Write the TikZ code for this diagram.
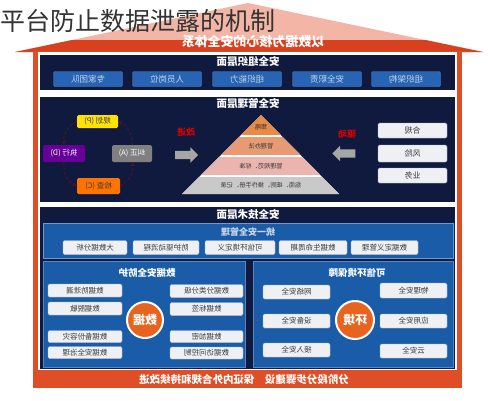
\documentclass[tikz,border=0pt]{standalone}
\usepackage{fontspec}
\setmainfont{Noto Sans CJK SC}
\usepackage{graphicx}
\usetikzlibrary{shapes.arrows}

\definecolor{navy}{HTML}{101A3E}
\definecolor{panel}{HTML}{1B5CA8}
\definecolor{paneledge}{HTML}{6F98CF}
\definecolor{orgblue}{HTML}{2864B4}
\definecolor{orgedge}{HTML}{4F85CC}
\definecolor{orgtext}{HTML}{C9D6EA}
\definecolor{roofpink}{HTML}{F3B6A6}
\definecolor{roofred}{HTML}{D9401E}
\definecolor{framered}{HTML}{DF4E26}
\definecolor{boxw}{HTML}{EEF0F4}
\definecolor{boxedge}{HTML}{AEB8C8}
\definecolor{boxtext}{HTML}{3A3A3A}
\definecolor{pyrA}{HTML}{E98B47}
\definecolor{pyrB}{HTML}{E89A74}
\definecolor{pyrC}{HTML}{EAB5AE}
\definecolor{pyrD}{HTML}{C9C9C9}
\definecolor{cyc}{HTML}{4A1626}
\definecolor{circ}{HTML}{E8641E}

\newcommand{\rv}[1]{\reflectbox{#1}}
\newcommand{\fs}[1]{\fontsize{#1}{#1}\selectfont}

\begin{document}
\begin{tikzpicture}
[x=1pt,y=1pt,>=stealth,
 hdr/.style = {text=white, font=\fs{10.5}\bfseries, inner sep=0pt},
 orgbox/.style = {draw=orgedge, fill=orgblue, text=orgtext, rounded corners=1.5pt, minimum width=69pt, minimum height=15pt, font=\fs{8.5}, inner sep=0pt},
 wbox/.style = {draw=boxedge, fill=boxw, text=boxtext, rounded corners=1.5pt, minimum height=14pt, font=\fs{7.5}, inner sep=0pt},
 pdca/.style = {rounded corners=1.5pt, text=white, font=\fs{7.5}, inner sep=0pt},
 redlbl/.style = {text=red!85!black, font=\fs{9}\bfseries, inner sep=0pt},
 lvl/.style = {text=boxtext, font=\fs{6.2}, inner sep=0pt},
 core/.style = {circle, draw=white, line width=2pt, fill=circ, text=white, font=\fs{12}\bfseries, inner sep=0pt},
 garrow/.style = {single arrow, fill=gray!70, minimum height=23pt, minimum width=15pt, single arrow head extend=3.5pt, inner xsep=0pt, inner ysep=4pt},
]

\useasboundingbox (0,0) rectangle (488,-400);
\fill[white] (0,0) rectangle (488,-400);

% roof
\fill[roofpink] (248,-3) -- (15,-52) -- (483,-52) -- cycle;
\begin{scope}
\clip (248,-3) -- (15,-52) -- (483,-52) -- cycle;
\fill[roofred] (0,-40) rectangle (488,-53);
\end{scope}
\node (roof) at (253,-42) [text=white, font=\fs{13}\bfseries, inner sep=0pt] {\rv{以数据为核心的安全体系}};

% frame
\fill[framered] (33,-51) rectangle (462,-388);
\fill[white] (38,-52) rectangle (457,-370);
\node (foot) at (244,-379) [text=white, font=\fs{10.5}\bfseries, inner sep=0pt] {\rv{分阶段分步骤建设\quad 保证内外合规和持续改进}};

% organisation layer
\fill[navy] (40,-55) rectangle (455,-90);
\node (orgH) at (248,-61.5) [hdr] {\rv{安全组织层面}};
\node (org1) at (88,-79) [orgbox] {\rv{专家团队}};
\node (org2) at (167,-79) [orgbox] {\rv{人员岗位}};
\node (org3) at (247,-79) [orgbox] {\rv{组织能力}};
\node (org4) at (327,-79) [orgbox] {\rv{安全职责}};
\node (org5) at (406,-79) [orgbox] {\rv{组织架构}};

% management layer
\fill[navy] (40,-97) rectangle (455,-202);
\node (mgtH) at (248,-104) [hdr] {\rv{安全管理层面}};
\node (plan) at (97.5,-121.5) [pdca, fill=yellow!85!orange, text=boxtext, minimum width=41pt, minimum height=13pt] {\rv{规划 (P)}};
\node (do) at (64,-153.5) [pdca, fill=violet!80!blue, minimum width=42pt, minimum height=17pt] {\rv{执行 (D)}};
\node (act) at (132,-153.5) [pdca, fill=gray, minimum width=40pt, minimum height=17pt] {\rv{纠正 (A)}};
\node (check) at (98.5,-186) [pdca, fill=orange!90!red, text=boxtext, minimum width=43pt, minimum height=16pt] {\rv{检查 (C)}};
\draw [cyc, line width=1pt, densely dashed, ->] (plan.west) to [bend right=35] (do.north);
\draw [cyc, line width=1pt, densely dashed, ->] (do.south) to [bend right=35] (check.west);
\draw [cyc, line width=1pt, densely dashed, ->] (check.east) to [bend right=35] (act.south);
\draw [cyc, line width=1pt, densely dashed, ->] (act.north) to [bend right=35] (plan.east);
\node (imp) at (186,-132) [redlbl] {\rv{改进}};
\node (arrL) at (184.5,-155) [garrow] {};

\fill[white] (261,-115) -- (182,-194) -- (339,-194) -- cycle;
\begin{scope}
\clip (261,-115) -- (182,-194) -- (339,-194) -- cycle;
\fill[pyrA] (182,-115) rectangle (339,-135);
\fill[pyrB] (182,-136.5) rectangle (339,-155);
\fill[pyrC] (182,-157) rectangle (339,-175);
\fill[pyrD] (182,-177) rectangle (339,-194);
\end{scope}
\node (lv1) at (261,-127) [lvl] {\rv{策略}};
\node (lv2) at (261,-146) [lvl] {\rv{管理办法}};
\node (lv3) at (261,-166) [lvl] {\rv{管理规范、标准}};
\node (lv4) at (261,-185.5) [lvl] {\rv{指南、细则、操作手册、记录}};

\node (drv) at (347,-134) [redlbl] {\rv{驱动}};
\node (arrR) at (346,-153.5) [garrow, shape border rotate=180] {};
\node (cmp) at (412.5,-130.5) [wbox, minimum width=69pt, minimum height=15pt, font=\fs{8}] {\rv{合规}};
\node (risk) at (412.5,-153.5) [wbox, minimum width=69pt, minimum height=17pt, font=\fs{8}] {\rv{风险}};
\node (biz) at (412.5,-175.5) [wbox, minimum width=69pt, minimum height=15pt, font=\fs{8}] {\rv{业务}};

% technology layer
\fill[navy] (40,-207) rectangle (455,-369);
\node (tecH) at (248,-215) [hdr] {\rv{安全技术层面}};
\filldraw[fill=panel, draw=paneledge] (43,-223) rectangle (453,-258);
\node (uniH) at (248,-232) [text=orgtext, font=\fs{9}\bfseries, inner sep=0pt] {\rv{统一安全管理}};
\node (t1) at (95,-247.5) [wbox, minimum width=64pt] {\rv{大数据分析}};
\node (t2) at (166,-247.5) [wbox, minimum width=66pt] {\rv{防护驱动流程}};
\node (t3) at (240,-247.5) [wbox, minimum width=70pt] {\rv{可信环境定义}};
\node (t4) at (313,-247.5) [wbox, minimum width=68pt] {\rv{数据生命周期}};
\node (t5) at (384.5,-247.5) [wbox, minimum width=67pt] {\rv{数据定义管理}};

% data protection
\filldraw[fill=panel, draw=paneledge!70!panel] (43,-261) rectangle (245,-367);
\node (datH) at (147,-273) [text=white, font=\fs{9.5}\bfseries, inner sep=0pt] {\rv{数据安全防护}};
\node (d1) at (85,-290.5) [wbox, minimum width=74pt, minimum height=13pt] {\rv{数据防泄漏}};
\node (d2) at (85,-308.5) [wbox, minimum width=74pt, minimum height=13pt] {\rv{数据脱敏}};
\node (d3) at (85,-336.5) [wbox, minimum width=74pt, minimum height=12pt] {\rv{数据备份容灾}};
\node (d4) at (85,-352.5) [wbox, minimum width=74pt, minimum height=12pt] {\rv{数据安全治理}};
\node (d5) at (206.5,-291) [wbox, minimum width=73pt, minimum height=13pt] {\rv{数据分类分级}};
\node (d6) at (206.5,-309) [wbox, minimum width=73pt, minimum height=13pt] {\rv{数据标签}};
\node (d7) at (206.5,-336.5) [wbox, minimum width=73pt, minimum height=12pt] {\rv{数据加密}};
\node (d8) at (206.5,-353) [wbox, minimum width=73pt, minimum height=12pt] {\rv{数据访问控制}};
\node (data) at (145,-320) [core, minimum size=36pt] {\rv{数据}};

% trusted environment
\filldraw[fill=panel, draw=paneledge!70!panel] (253,-261) rectangle (453,-367);
\node (envH) at (357,-273) [text=white, font=\fs{9.5}\bfseries, inner sep=0pt] {\rv{可信环境保障}};
\node (e1) at (296.5,-292) [wbox, minimum width=67pt] {\rv{网络安全}};
\node (e2) at (296.5,-321) [wbox, minimum width=67pt] {\rv{设备安全}};
\node (e3) at (296.5,-350) [wbox, minimum width=67pt] {\rv{接入安全}};
\node (e4) at (413.5,-290.5) [wbox, minimum width=67pt, minimum height=15pt] {\rv{物理安全}};
\node (e5) at (413.5,-321) [wbox, minimum width=67pt] {\rv{应用安全}};
\node (e6) at (413.5,-351) [wbox, minimum width=67pt] {\rv{云安全}};
\node (env) at (355,-320) [core, minimum size=38pt] {\rv{环境}};

% title
\node (title) at (0,-21) [anchor=west, text=black!80, font=\fs{25}, inner sep=0pt] {平台防止数据泄露的机制};

\end{tikzpicture}
\end{document}
